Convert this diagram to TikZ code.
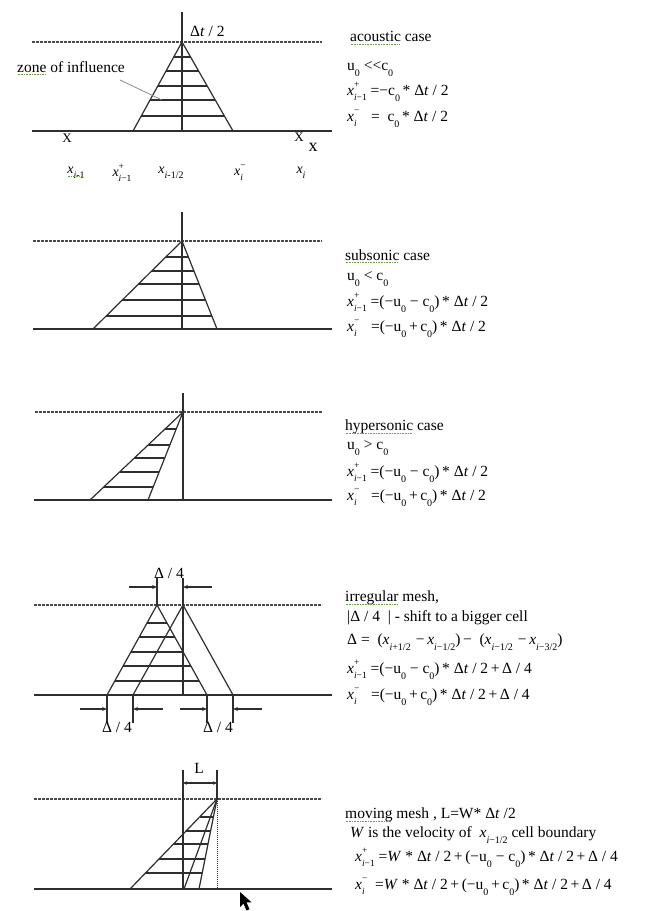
\documentclass[tikz,border=0pt]{standalone}
\usepackage{fontspec}
\setmainfont{Liberation Serif}
\usetikzlibrary{arrows.meta,calc}
\definecolor{ln}{HTML}{2E2E2E}
\definecolor{dsh}{HTML}{4A4A4A}
\definecolor{squig}{HTML}{6E9E45}
\newsavebox\supbox
\newsavebox\subbox
\newcommand\supsb[2]{\sbox\supbox{\fontsize{9.5}{10}\selectfont #1}\sbox\subbox{\fontsize{9.5}{10}\selectfont #2}%
  \ifdim\wd\supbox>\wd\subbox\makebox[0pt][l]{\raisebox{-0.33em}{\usebox\subbox}}\raisebox{0.5em}{\usebox\supbox}%
  \else\makebox[0pt][l]{\raisebox{0.5em}{\usebox\supbox}}\raisebox{-0.33em}{\usebox\subbox}\fi}
\newcommand\sbx[1]{\raisebox{-0.36em}{\fontsize{10}{10}\selectfont #1}}
\newcommand\xp{\textit{x}\supsb{+}{\textit{i}−1}}
\newcommand\xm{\textit{x}\supsb{−}{\textit{i}}}
\newcommand\zs{\sbx{0}}
\newcommand\dt{Δ\textit{t}}
\newcommand\sq[1]{\setbox0=\hbox{#1}\rlap{\copy0}\raisebox{-2.6pt}{\color{squig}\hbox to \wd0{\leaders\hbox to 1.6pt{\hss\rule{0.8pt}{0.7pt}\hss}\hfill}}}
\begin{document}
\begin{tikzpicture}[x=1pt,y=-1pt,
  ln/.style={draw=ln,line width=1.2pt},
  dl/.style={draw=dsh,line width=1.1pt,dash pattern=on 2.6pt off 1.4pt},
  txt/.style={anchor=west,inner sep=0pt,font=\fontsize{15.5}{18}\selectfont},
  lab/.style={inner sep=0pt,font=\fontsize{14}{16}\selectfont},
  arr/.style={draw=ln,line width=1.1pt,-{Stealth[length=5pt,width=4pt]}}]
\useasboundingbox[fill=white] (0,0) rectangle (646,911);

% ---------------- panel 1: acoustic ----------------
\coordinate (A1) at (182,42);
\coordinate (L1) at (133,131);
\coordinate (R1) at (233,131);
\coordinate (T1) at (182,12);
\coordinate (B1) at (182,131);
\draw[dl] (32,42) -- (322,42);
\draw[ln] (32,131) -- (332,131);
\draw[ln] (T1) -- (B1);
\draw[ln] (L1) -- (A1) -- (R1);
\foreach \t in {0.169,0.326,0.494,0.652,0.831}
  \draw[ln] ($(A1)!\t!(L1)$) -- ($(A1)!\t!(R1)$);
\node[txt] (dt1) at (190,31) {\dt\ / 2};
\node[txt] (zone) at (17,68) {\sq{zone} of influence};
\coordinate (zp1) at (120,80);
\coordinate (zp2) at (162,100);
\draw[draw=gray,line width=0.7pt] (zp1) -- (zp2);
\node[lab,font=\fontsize{13}{14}\selectfont] (X1) at (67,138) {X};
\node[lab,font=\fontsize{13}{14}\selectfont] (X2) at (299,137) {X};
\node[lab,font=\fontsize{18}{18}\selectfont] (xax) at (313,147) {x};
\node[lab] (l1) at (76,173) {\sq{\textit{x}\sbx{\textit{i}-1}}};
\node[lab] (l2) at (122,173) {\xp};
\node[lab] (l3) at (171,173) {\textit{x}\sbx{\textit{i}-1/2}};
\node[lab] (l4) at (240,173) {\xm};
\node[lab] (l5) at (301,173) {\textit{x}\sbx{\textit{i}}};
\node[txt] (p1a) at (350,38) {\sq{acoustic} case};
\node[txt] (p1b) at (347,69) {u\zs\ <{}<c\zs};
\node[txt] (p1c) at (347,92) {\xp\ =−c\zs\,* \dt\ / 2};
\node[txt] (p1d) at (347,119) {\xm\ \ \ =\ \ c\zs\,* \dt\ / 2};

% ---------------- panel 2: subsonic ----------------
\coordinate (A2) at (182,241);
\coordinate (L2) at (93,329);
\coordinate (R2) at (217,329);
\coordinate (T2) at (182,212);
\coordinate (B2) at (182,329);
\draw[dl] (33,241) -- (322,241);
\draw[ln] (33,329) -- (332,329);
\draw[ln] (T2) -- (B2);
\draw[ln] (L2) -- (A2) -- (R2);
\foreach \t in {0.182,0.341,0.489,0.670,0.852}
  \draw[ln] ($(A2)!\t!(L2)$) -- ($(A2)!\t!(R2)$);
\node[txt] (p2a) at (345,256) {\sq{subsonic} case};
\node[txt] (p2b) at (347,279) {u\zs\ < c\zs};
\node[txt] (p2c) at (347,303) {\xp\ =(−u\zs\ − c\zs)\,* \dt\ / 2};
\node[txt] (p2d) at (347,329) {\xm\ \ \ =(−u\zs\,+\,c\zs)\,* \dt\ / 2};

% ---------------- panel 3: hypersonic ----------------
\coordinate (A3) at (183,412);
\coordinate (L3) at (90,500);
\coordinate (R3) at (148,500);
\coordinate (T3) at (183,393);
\coordinate (B3) at (183,500);
\draw[dl] (35,412) -- (322,412);
\draw[ln] (34,500) -- (332,500);
\draw[ln] (T3) -- (B3);
\draw[ln] (L3) -- (A3) -- (R3);
\foreach \t in {0.193,0.375,0.523,0.682,0.852}
  \draw[ln] ($(A3)!\t!(L3)$) -- ($(A3)!\t!(R3)$);
\node[txt] (p3a) at (345,427) {\sq{hypersonic} case};
\node[txt] (p3b) at (347,448) {u\zs\ > c\zs};
\node[txt] (p3c) at (347,473) {\xp\ =(−u\zs\ − c\zs)\,* \dt\ / 2};
\node[txt] (p3d) at (347,498) {\xm\ \ \ =(−u\zs\,+\,c\zs)\,* \dt\ / 2};

% ---------------- panel 4: irregular mesh ----------------
\coordinate (A4) at (157,605);
\coordinate (L4) at (107,695);
\coordinate (R4) at (207,695);
\coordinate (A5) at (183,605);
\coordinate (L5) at (133,695);
\coordinate (R5) at (233,695);
\coordinate (T4a) at (157,578);
\coordinate (T4b) at (183,578);
\coordinate (B4) at (183,695);
\draw[dl] (34,605) -- (322,605);
\draw[ln] (34,695) -- (332,695);
\draw[ln] (T4a) -- (A4);
\draw[ln] (T4b) -- (B4);
\draw[ln] (L4) -- (A4) -- (R4);
\draw[ln] (L5) -- (A5) -- (R5);
\foreach \t in {0.2,0.356,0.522,0.678,0.844}
  \draw[ln] ($(A4)!\t!(L4)$) -- ($(A4)!\t!(R4)$);
% top delta/4 marker
\coordinate (ta1) at (129,587);
\coordinate (ta2) at (212,587);
\draw[arr] (ta1) -- (T4a |- ta1);
\draw[arr] (ta2) -- (T4b |- ta2);
\node[lab,font=\fontsize{15.5}{16}\selectfont] (d4t) at (169,573) {Δ / 4};
% bottom delta/4 markers
\coordinate (dL4) at (107,723);
\coordinate (dL5) at (133,723);
\coordinate (dR4) at (207,723);
\coordinate (dR5) at (233,723);
\draw[ln] (L4) -- (dL4);
\draw[ln] (L5) -- (dL5);
\draw[ln] (R4) -- (dR4);
\draw[ln] (R5) -- (dR5);
\coordinate (ba1) at (80,709);
\coordinate (ba2) at (163,709);
\coordinate (ba3) at (180,709);
\coordinate (ba4) at (262,709);
\draw[arr] (ba1) -- (L4 |- ba1);
\draw[arr] (ba2) -- (L5 |- ba2);
\draw[arr] (ba3) -- (R4 |- ba3);
\draw[arr] (ba4) -- (R5 |- ba4);
\node[lab,font=\fontsize{15.5}{16}\selectfont] (d4l) at (117,727) {Δ / 4};
\node[lab,font=\fontsize{15.5}{16}\selectfont] (d4r) at (218,727) {Δ / 4};
\node[txt] (p4a) at (345,598) {\sq{irregular} mesh,};
\node[txt] (p4b) at (347,618) {|Δ / 4\ \ | - shift to a bigger cell};
\node[txt] (p4c) at (347,642) {Δ =\ \ (\textit{x}\sbx{\textit{i}+1/2}\,\,−\,\textit{x}\sbx{\textit{i}−1/2})\,−\ \ (\textit{x}\sbx{\textit{i}−1/2}\,\,−\,\textit{x}\sbx{\textit{i}−3/2})};
\node[txt] (p4d) at (347,670) {\xp\ =(−u\zs\ − c\zs)\,* \dt\ / 2\,+\,Δ / 4};
\node[txt] (p4e) at (347,697) {\xm\ \ \ =(−u\zs\,+\,c\zs)\,* \dt\ / 2\,+\,Δ / 4};

% ---------------- panel 5: moving mesh ----------------
\coordinate (A6) at (217,799);
\coordinate (L6) at (130,889);
\coordinate (M6) at (184,889);
\coordinate (R6) at (199,889);
\coordinate (T6a) at (183,770);
\coordinate (B6) at (183,889);
\coordinate (T6b) at (217,770);
\coordinate (D6) at (217,889);
\draw[dl] (34,799) -- (322,799);
\draw[ln] (34,889) -- (332,889);
\draw[ln] (T6a) -- (B6);
\draw[ln] (T6b) -- (A6);
\draw[draw=ln,line width=0.9pt,dash pattern=on 1pt off 1pt] (A6) -- (D6);
\draw[ln] (L6) -- (A6) -- (R6);
\draw[ln] (A6) -- (M6);
\foreach \t in {0.2,0.356,0.5,0.667,0.822}
  \draw[ln] ($(A6)!\t!(L6)$) -- ($(A6)!\t!(R6)$);
\draw[draw=ln,line width=1.1pt,{Stealth[length=4pt,width=3.5pt]}-{Stealth[length=4pt,width=3.5pt]}] (183,783) -- (217,783);
\node[lab,font=\fontsize{15.5}{16}\selectfont] (Lb) at (199,768) {L};
% cursor
\fill[black] (240,892) -- (240,907) -- (243.5,903.5) -- (246.5,910.5) -- (249.5,909.2) -- (246.5,902.3) -- (251.5,902.3) -- cycle;
\node[txt] (p5a) at (345,815) {\sq{moving} mesh , L=W* \dt\ /2};
\node[txt] (p5b) at (350,835) {\textit{W} is the velocity of\ \ \textit{x}\sbx{\textit{i}−1/2} cell boundary};
\node[txt] (p5c) at (355,858) {\xp\ =\textit{W} * \dt\ / 2\,+\,(−u\zs\ − c\zs)\,* \dt\ / 2\,+\,Δ / 4};
\node[txt] (p5d) at (355,887) {\xm\ \ =\textit{W} * \dt\ / 2\,+\,(−u\zs\,+\,c\zs)\,* \dt\ / 2\,+\,Δ / 4};
\end{tikzpicture}
\end{document}
